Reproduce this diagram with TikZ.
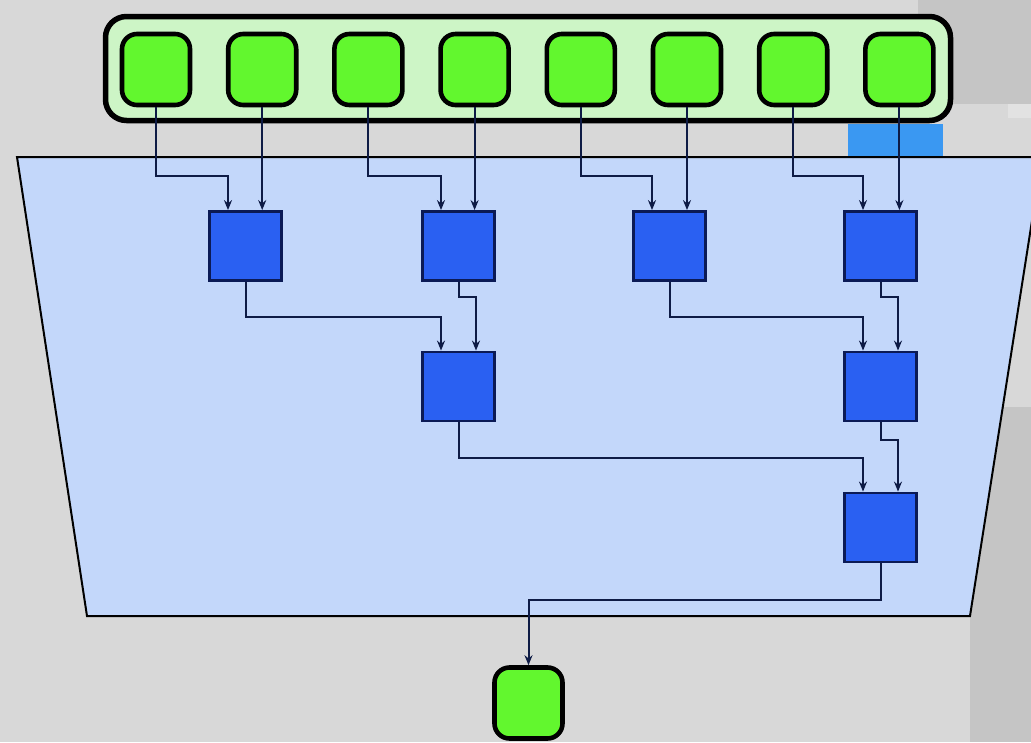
\documentclass[tikz,border=0pt]{standalone}
\usetikzlibrary{arrows.meta, positioning, calc}
\definecolor{paper}{HTML}{D8D8D8}
\definecolor{papershade}{HTML}{C5C5C5}
\definecolor{paperlight}{HTML}{E2E2E2}
\definecolor{portgreen}{HTML}{62F72E}
\definecolor{bankgreen}{HTML}{CDF5C6}
\definecolor{dieblue}{HTML}{C3D7FA}
\definecolor{cellblue}{HTML}{2A60F2}
\definecolor{cellnavy}{HTML}{0B1A55}
\definecolor{wirenavy}{HTML}{0E1B45}
\definecolor{padblue}{HTML}{3A98F2}

\begin{document}
\begin{tikzpicture}[x=1pt, y=-1pt,
    port/.style={draw=black, line width=4.6pt, fill=portgreen, rounded corners=15pt,
        minimum width=68pt, minimum height=71pt, inner sep=0pt},
    cell/.style={draw=cellnavy, line width=2.8pt, fill=cellblue,
        minimum width=72pt, minimum height=69pt, inner sep=0pt},
    wire/.style={draw=wirenavy, line width=2pt, -{Stealth[length=10pt, width=8pt]}}]
    \def\ofs{17.5}
    \useasboundingbox (0,0) rectangle (1031,742);
    \fill[paper] (0,0) rectangle (1031,742);
    \fill[papershade] (918,0) rectangle (1031,104);
    \fill[paperlight] (1008,104) rectangle (1031,118);
    \fill[papershade] (970,407) rectangle (1031,742);
    \fill[padblue] (848,124) rectangle (943,157);

    % die outline and input bank
    \draw[line width=2pt, fill=dieblue] (17,157) -- (1042,157) -- (970,616) -- (87,616) -- cycle;
    \draw[line width=5.5pt, fill=bankgreen, rounded corners=21pt] (105.5,16.5) rectangle (950.5,120.5);

    \node[port] (p1) at (156,69.5) {};
    \node[port] (p2) at (262.2,69.5) {};
    \node[port] (p3) at (368.4,69.5) {};
    \node[port] (p4) at (474.6,69.5) {};
    \node[port] (p5) at (580.8,69.5) {};
    \node[port] (p6) at (687,69.5) {};
    \node[port] (p7) at (793.2,69.5) {};
    \node[port] (p8) at (899.4,69.5) {};

    \node[cell] (c1) at (245.5,246) {};
    \node[cell] (c2) at (458.5,246) {};
    \node[cell] (c3) at (669.5,246) {};
    \node[cell] (c4) at (880.5,246) {};
    \node[cell] (d1) at (458.5,386.5) {};
    \node[cell] (d2) at (880.5,386.5) {};
    \node[cell] (e1) at (880.5,527.5) {};

    \node[port] (q) at (528.5,703) {};

    \coordinate (busA) at (0,176);
    \coordinate (busB) at (0,317);
    \coordinate (busC) at (0,297);
    \coordinate (busD) at (0,458);
    \coordinate (busE) at (0,440);
    \coordinate (busF) at (0,600);

    \draw[wire] (p1.south) -- (p1.south |- busA) -| ([xshift=-\ofs pt]c1.north);
    \draw[wire] (p2.south) -- (p2.south |- c1.north);
    \draw[wire] (p3.south) -- (p3.south |- busA) -| ([xshift=-\ofs pt]c2.north);
    \draw[wire] (p4.south) -- (p4.south |- c2.north);
    \draw[wire] (p5.south) -- (p5.south |- busA) -| ([xshift=-\ofs pt]c3.north);
    \draw[wire] (p6.south) -- (p6.south |- c3.north);
    \draw[wire] (p7.south) -- (p7.south |- busA) -| ([xshift=-\ofs pt]c4.north);
    \draw[wire] (p8.south) -- (p8.south |- c4.north);

    \draw[wire] (c1.south) -- (c1.south |- busB) -| ([xshift=-\ofs pt]d1.north);
    \draw[wire] (c2.south) -- (c2.south |- busC) -| ([xshift=\ofs pt]d1.north);
    \draw[wire] (c3.south) -- (c3.south |- busB) -| ([xshift=-\ofs pt]d2.north);
    \draw[wire] (c4.south) -- (c4.south |- busC) -| ([xshift=\ofs pt]d2.north);

    \draw[wire] (d1.south) -- (d1.south |- busD) -| ([xshift=-\ofs pt]e1.north);
    \draw[wire] (d2.south) -- (d2.south |- busE) -| ([xshift=\ofs pt]e1.north);

    \draw[wire] (e1.south) -- (e1.south |- busF) -| (q.north);
\end{tikzpicture}
\end{document}
